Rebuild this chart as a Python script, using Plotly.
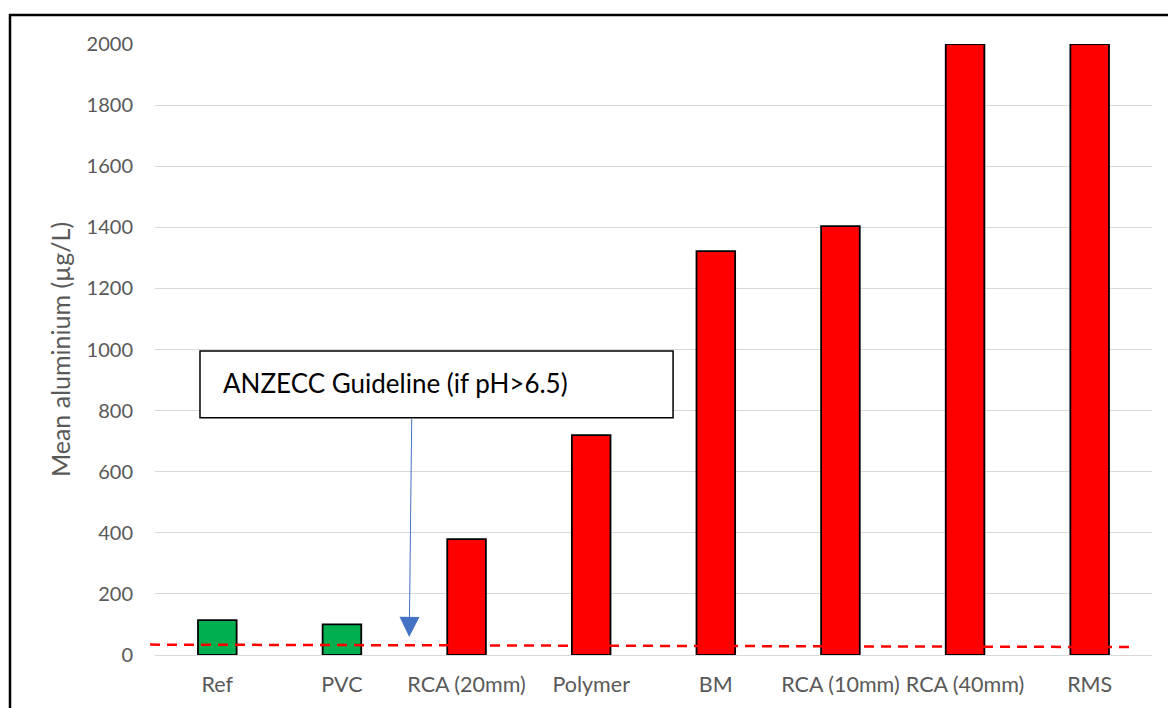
import plotly.graph_objects as go

categories = ["Ref", "PVC", "RCA (20mm)", "Polymer", "BM", "RCA (10mm)", "RCA (40mm)", "RMS"]
mean_al = [114, 100, 379, 720, 1322, 1404, 2000, 2000]
bar_colors = ["#00B050", "#00B050", "#FF0000", "#FF0000", "#FF0000", "#FF0000", "#FF0000", "#FF0000"]
guideline = [34, 26]  # left / right end of the dashed guideline
y_ticks = [0, 200, 400, 600, 800, 1000, 1200, 1400, 1600, 1800, 2000]

FONT = "Lato"
GREY = "#595959"

fig = go.Figure()
fig.add_trace(go.Bar(
    x=categories, y=mean_al,
    marker=dict(color=bar_colors, line=dict(color="#000000", width=1.8)),
    width=0.31, showlegend=False, hoverinfo="x+y",
))

fig.update_layout(
    width=1168, height=708,
    margin=dict(l=155, r=16, t=44, b=53),
    paper_bgcolor="white", plot_bgcolor="white",
    font=dict(family=FONT, color=GREY, size=20),
    xaxis=dict(showgrid=False, showline=False, ticks="", tickfont=dict(size=21.5, color=GREY),
               range=[-0.5, 7.5], ticklabelstandoff=14),
    yaxis=dict(range=[0, 2000], tickvals=y_ticks, showgrid=True, gridcolor="#D9D9D9", gridwidth=1,
               zeroline=True, zerolinecolor="#D9D9D9", zerolinewidth=1,
               tickfont=dict(size=20, color=GREY), ticks="", ticklen=0, ticklabelstandoff=21,
               title=dict(text="Mean aluminium (µg/L)", font=dict(size=25, color=GREY), standoff=8)),
    shapes=[
        # outer chart border
        dict(type="rect", xref="paper", yref="paper", x0=-145/997, x1=1.2, y0=-0.3, y1=(655-15)/611,
             line=dict(color="black", width=2.5), fillcolor="rgba(0,0,0,0)", layer="above"),
        # ANZECC guideline
        dict(type="line", xref="paper", yref="y", x0=-0.005, x1=0.98, y0=guideline[0], y1=guideline[1],
             line=dict(color="#FF0000", width=2.5, dash="10px,7px"), layer="above"),
        # text box
        dict(type="rect", xref="x", yref="y", x0=-0.139, x1=3.657, y0=777, y1=995,
             line=dict(color="black", width=1.5), fillcolor="white", layer="above"),
    ],
    annotations=[
        dict(x=0.03, y=891, xref="x", yref="y", text="ANZECC Guideline (if pH>6.5)", showarrow=False,
             xanchor="left", yanchor="middle", font=dict(family=FONT, size=26, color="black")),
        dict(x=1.54, y=59, xref="x", yref="y", ax=1.56, ay=777, axref="x", ayref="y",
             text="", showarrow=True, arrowhead=2, arrowsize=4, arrowwidth=1, arrowcolor="#4472C4"),
    ],
)

fig.write_html("out.html", config={"displayModeBar": False},
               post_script="document.body.style.margin='0px';")
